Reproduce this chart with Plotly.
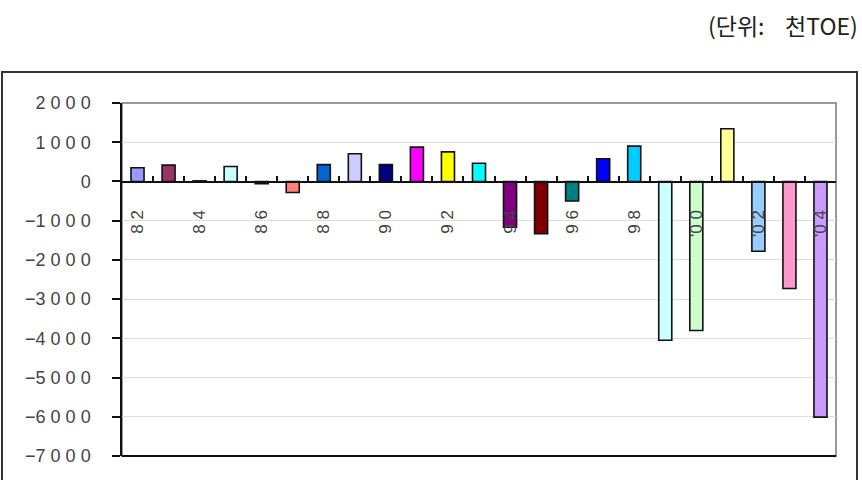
import plotly.graph_objects as go

years = ['82', '83', '84', '85', '86', '87', '88', '89', '90', '91', '92', '93',
         '94', '95', '96', '97', '98', '99', '00', '01', '02', '03', '04']
values = [350, 415, 15, 380, -55, -280, 430, 705, 430, 875, 755, 465,
          -1165, -1335, -500, 580, 900, -4050, -3800, 1345, -1780, -2730, -6010]
colors = ['#9999FF', '#993366', '#FFFFCC', '#CCFFFF', '#660066', '#FF8080',
          '#0066CC', '#CCCCFF', '#000080', '#FF00FF', '#FFFF00', '#00FFFF',
          '#800080', '#800000', '#008080', '#0000FF', '#00CCFF', '#CCFFFF',
          '#CCFFCC', '#FFFF99', '#99CCFF', '#FF99CC', '#CC99FF']
x_tick_text = ['8 2', '', '8 4', '', '8 6', '', '8 8', '', '9 0', '', '9 2', '',
               '9 4', '', '9 6', '', '9 8', '', "'0 0", '', "'0 2", '', "'0 4"]
y_tick_vals = [2000, 1000, 0, -1000, -2000, -3000, -4000, -5000, -6000, -7000]
y_tick_text = ['2 0 0 0', '1 0 0 0', '0', '−1 0 0 0', '−2 0 0 0', '−3 0 0 0',
               '−4 0 0 0', '−5 0 0 0', '−6 0 0 0', '−7 0 0 0']
unit_title = '(단위:    천TOE)'

y_min, y_max = -7000, 2000
zero_pos = (0 - y_min) / (y_max - y_min)

fig = go.Figure()
fig.add_bar(x=years, y=values, marker_color=colors,
            marker_line_color='#111111', marker_line_width=1.6,
            width=0.42, showlegend=False)
# invisible helper trace: its y axis places the category axis on the zero line
fig.add_bar(x=years, y=[None] * len(years), yaxis='y2', showlegend=False,
            hoverinfo='skip')

W, H = 862, 480
L, R, T, B = 122, 26, 103, 24
pw, ph = W - L - R, H - T - B


def px_x(v):
    return (v - L) / pw


def px_y(v):
    return (H - B - v) / ph


fig.update_layout(
    width=W, height=H,
    margin=dict(l=L, r=R, t=T, b=B, pad=0),
    template='none',
    paper_bgcolor='white', plot_bgcolor='rgba(0,0,0,0)',
    font=dict(family='Liberation Sans, Arial, sans-serif', color='#444444'),
    xaxis=dict(type='category', range=[-0.5, len(years) - 0.5],
               anchor='y2', side='bottom',
               tickmode='array', tickvals=years, ticktext=x_tick_text,
               tickson='boundaries', tickangle=-90,
               ticks='inside', ticklen=6, tickwidth=1.5, tickcolor='#111111',
               showline=True, linecolor='#111111',
               linewidth=1.5, showgrid=False, zeroline=False,
               tickfont=dict(size=17, color='#444444'),
               ticklabelstandoff=20, automargin=False),
    yaxis=dict(range=[y_min, y_max], anchor='x', tickmode='array',
               tickvals=y_tick_vals,
               ticktext=y_tick_text, ticks='outside', ticklen=8, tickwidth=1.5,
               tickcolor='#111111', showline=True, linecolor='#111111',
               linewidth=1.5, showgrid=True, gridcolor='#DDDDDD', gridwidth=1,
               zeroline=False, tickfont=dict(size=18, color='#444444'),
               ticklabelstandoff=18, automargin=False),
    yaxis2=dict(domain=[zero_pos, 1], anchor='x', range=[0, 1],
                showticklabels=False, showgrid=False, showline=False,
                zeroline=False, ticks='', automargin=False),
    shapes=[
        dict(type='rect', xref='paper', yref='paper', x0=0, x1=1, y0=0, y1=1,
             line=dict(color='#999999', width=2), layer='below'),
        dict(type='line', xref='paper', yref='paper', x0=0, x1=1, y0=0, y1=0,
             line=dict(color='#111111', width=2)),
        dict(type='rect', xref='paper', yref='paper',
             x0=px_x(2), x1=px_x(857), y0=px_y(500), y1=px_y(72),
             line=dict(color='#333333', width=2)),
    ],
    annotations=[
        dict(text=unit_title, xref='paper', yref='paper', x=px_x(706),
             y=px_y(25), xanchor='left', yanchor='middle', showarrow=False,
             font=dict(family='Noto Sans CJK KR', size=23, color='#222222')),
    ],
)

fig.write_html('out.html')
